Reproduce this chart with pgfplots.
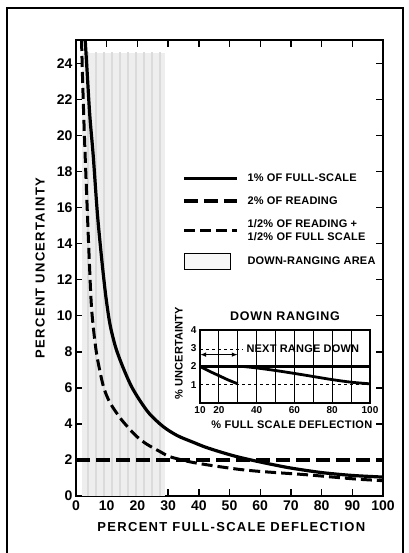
\documentclass[border=0pt]{standalone}
\usepackage{pgfplots}
\pgfplotsset{compat=1.18}
\usepackage{fontspec}
\setmainfont{Liberation Sans}
\usetikzlibrary{arrows.meta,patterns.meta}
\begin{document}
\begin{tikzpicture}
\path[use as bounding box] (0pt,0pt) rectangle (408pt,553pt);
\draw[line width=1.6pt] (7pt,-3pt) -- (7pt,545pt) -- (403pt,545pt) -- (403pt,-3pt);
\begin{axis}[
  at={(76pt,57pt)}, anchor=south west, scale only axis,
  width=307pt, height=456pt,
  xmin=0, xmax=100, ymin=0, ymax=25.3,
  xtick={0,10,...,100}, ytick={0,2,...,24},
  tick align=inside, major tick length=7pt,
  every tick/.style={black, line width=1.4pt},
  axis line style={line width=2pt},
  /pgf/number format/assume math mode=true,
  tick label style={font=\fontsize{14}{16}\selectfont\bfseries},
  xticklabel style={yshift=-1pt},
  xlabel={PERCENT FULL-SCALE DEFLECTION},
  ylabel={PERCENT UNCERTAINTY},
  label style={font=\fontsize{13}{15}\selectfont\bfseries\addfontfeature{LetterSpace=10}},
  xlabel style={at={(axis description cs:0.506,-0.068)}, anchor=center},
  ylabel style={at={(axis description cs:-0.117,0.5)}, anchor=center},
  legend style={at={(axis cs:34.5,18.0)}, anchor=north west, draw=none, fill=none,
    font=\fontsize{11}{13}\selectfont\bfseries\addfontfeature{LetterSpace=2},
    cells={anchor=west, align=left}, row sep=9.5pt, inner sep=0pt,
    /tikz/every odd column/.append style={column sep=6pt}},
  legend image code/.code={\draw[#1] (0pt,0pt) -- (53pt,0pt);},
]
\addplot[draw=none, fill=gray!13, forget plot,
  postaction={pattern={Lines[angle=90,distance=8pt,line width=1.3pt]}, pattern color=gray!28}]
  coordinates {(2,24.6) (29,24.6)} \closedcycle;

\addplot[black, line width=3.2pt, smooth, tension=0.5] coordinates {
 (3.0,25.3) (3.6,23.6) (4.5,21.1) (5.6,18.9) (7.0,15.6) (8.4,13.1) (9.7,11.1)
 (11.1,9.5) (13,8.2) (15.4,7.1) (18,6.1) (20.8,5.3) (24,4.55) (28.4,3.85)
 (33,3.35) (38.2,2.98) (42,2.72) (46.9,2.45) (52,2.2) (57,2.0) (63,1.78)
 (70,1.55) (80,1.3) (90,1.14) (100,1.05)};
\addlegendentry{1\% OF FULL-SCALE}

\addplot[black, line width=4.4pt, dash pattern=on 14pt off 6pt] coordinates {(0,2) (100,2)};
\addlegendentry{2\% OF READING}

\addplot[black, line width=3pt, dash pattern=on 11pt off 5pt, smooth, tension=0.5] coordinates {
 (1.8,25.3) (2.2,22.8) (2.8,19.7) (3.5,16.6) (4.2,13.6) (5.0,10.6) (6.0,8.8)
 (7.0,7.6) (8.9,6.1) (11,5.2) (14.3,4.35) (17,3.8) (19.8,3.3) (23,2.88)
 (27.4,2.46) (30.6,2.18) (37,1.9) (42,1.75) (47,1.62) (53,1.48) (58.8,1.38)
 (65,1.3) (75,1.18) (85,1.03) (92,0.93) (100,0.85)};
\addlegendentry{1/2\% OF READING +\\1/2\% OF FULL SCALE}

\addlegendimage{legend image code/.code={\draw[line width=1pt, fill=gray!6] (0pt,-8pt) rectangle (46pt,8pt);}}
\addlegendentry{DOWN-RANGING AREA}
\end{axis}

\begin{axis}[
  at={(200pt,150pt)}, anchor=south west, scale only axis,
  width=170pt, height=73pt,
  xmin=10, xmax=100, ymin=0, ymax=4,
  xtick={10,20,...,100}, xticklabels={10,20,,40,,60,,80,,100},
  ytick={1,2,3,4},
  major tick length=0pt,
  xmajorgrids, grid style={black, line width=0.9pt},
  axis line style={line width=1.8pt},
  axis background/.style={fill=white},
  /pgf/number format/assume math mode=true,
  tick label style={font=\fontsize{10}{12}\selectfont\bfseries},
  title={DOWN RANGING},
  title style={at={(axis description cs:0.5,1)}, anchor=south, yshift=0pt,
    font=\fontsize{12.5}{15}\selectfont\bfseries\addfontfeature{LetterSpace=6}},
  xlabel={\% FULL SCALE DEFLECTION},
  ylabel={\% UNCERTAINTY},
  xlabel style={at={(axis description cs:0.54,-0.30)}, anchor=center,
    font=\fontsize{11}{13}\selectfont\bfseries\addfontfeature{LetterSpace=3}},
  ylabel style={at={(axis description cs:-0.124,0.68)}, anchor=center,
    font=\fontsize{11}{13}\selectfont\bfseries\addfontfeature{LetterSpace=2}},
]
\addplot[black, line width=1.1pt, dashed] coordinates {(10,1) (100,1)};
\addplot[black, line width=1.1pt, dashed] coordinates {(10,2.95) (33,2.95)};
\addplot[black, line width=3pt] coordinates {(10,2) (100,2)};
\addplot[black, line width=2.8pt, smooth] coordinates {(10,2) (15,1.74) (20,1.5) (25,1.26) (30,1.05)};
\addplot[black, line width=2.8pt, smooth] coordinates {(33,2) (40,1.92) (50,1.78) (60,1.62) (70,1.45) (80,1.28) (90,1.14) (100,1.05)};
\addplot[black, line width=1.6pt, {Latex[length=6pt]}-{Latex[length=6pt]}] coordinates {(10,2.65) (30,2.65)};
\node[anchor=west, inner sep=1pt, font=\fontsize{11}{13}\selectfont\bfseries\addfontfeature{LetterSpace=2}] at (axis cs:34,3.0) {NEXT RANGE DOWN};
\end{axis}
\end{tikzpicture}
\end{document}
